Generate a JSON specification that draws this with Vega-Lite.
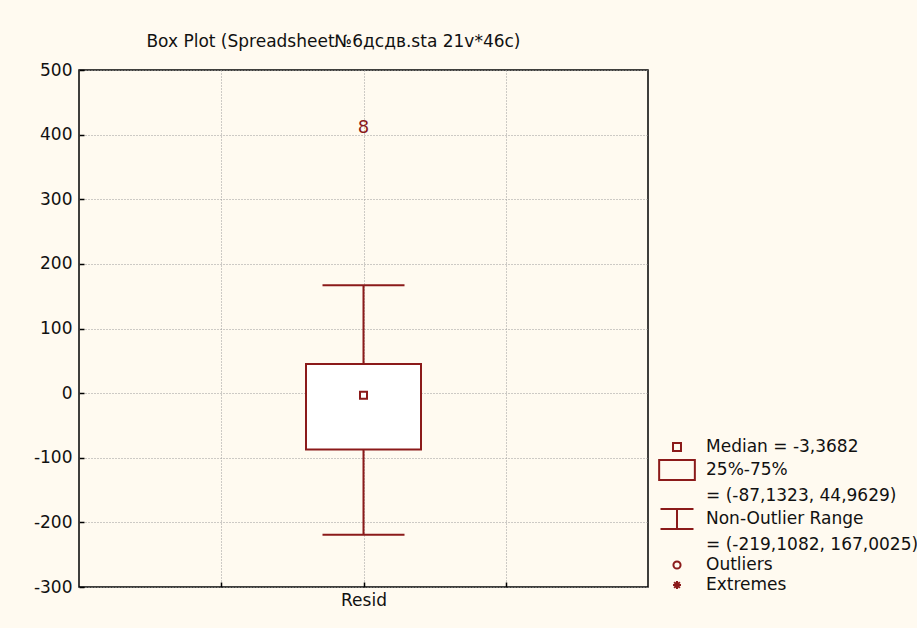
{
  "$schema": "https://vega.github.io/schema/vega-lite/v6.json",
  "width": 569,
  "height": 517,
  "autosize": {"type": "none"},
  "padding": {"left": 79, "top": 70, "right": 269, "bottom": 41},
  "background": "#FFFAF0",
  "title": {
    "text": "Box Plot (Spreadsheet№6дсдв.sta 21v*46c)",
    "anchor": "start",
    "dx": 113,
    "offset": 10,
    "font": "DejaVu Sans",
    "fontSize": 17,
    "fontWeight": "normal",
    "color": "#111111"
  },
  "config": {
    "font": "DejaVu Sans",
    "view": {"fill": "white", "stroke": "#000000", "strokeWidth": 1.5}
  },
  "datasets": {
    "box": [
      {"variable": "Resid", "q1": -87.1323, "q3": 44.9629, "median": -3.3682, "lower": -219.1082, "upper": 167.0025}
    ],
    "outliers": [
      {"variable": "Resid", "value": 410, "case": "8"}
    ],
    "legendItems": [
      {"item": "Median = -3,3682"},
      {"item": "25%-75%"},
      {"item": "= (-87,1323, 44,9629)"},
      {"item": "Non-Outlier Range"},
      {"item": "= (-219,1082, 167,0025)"},
      {"item": "Outliers"},
      {"item": "Extremes"}
    ]
  },
  "layer": [
    {
      "data": {"name": "box"},
      "mark": {"type": "rule", "color": "#8B1A1A", "strokeWidth": 2},
      "encoding": {
        "x": {
          "field": "variable",
          "type": "nominal",
          "scale": {"type": "point", "domain": [" ", "Resid", "  "], "padding": 1},
          "axis": {
            "title": null,
            "grid": true,
            "gridColor": "#9a9a9a",
            "gridDash": [1, 2],
            "gridWidth": 1,
            "domain": false,
            "tickSize": -5,
            "tickWidth": 1.5,
            "tickColor": "#000000",
            "labelFont": "DejaVu Sans",
            "labelFontSize": 17,
            "labelColor": "#111111",
            "labelPadding": 10,
            "labelAngle": 0
          }
        },
        "y": {
          "field": "lower",
          "type": "quantitative",
          "scale": {"domain": [-300, 500], "nice": false, "zero": false},
          "axis": {
            "title": null,
            "values": [-300, -200, -100, 0, 100, 200, 300, 400, 500],
            "labelExpr": "replace(datum.label, '−', '-')",
            "grid": true,
            "gridColor": "#9a9a9a",
            "gridDash": [1, 2],
            "gridWidth": 1,
            "domain": false,
            "tickSize": -5,
            "tickWidth": 1.5,
            "tickColor": "#000000",
            "labelFont": "DejaVu Sans",
            "labelFontSize": 17,
            "labelColor": "#111111",
            "labelPadding": 12
          }
        },
        "y2": {"field": "upper"}
      }
    },
    {
      "data": {"name": "box"},
      "mark": {"type": "bar", "size": 115, "fill": "white", "stroke": "#8B1A1A", "strokeWidth": 2},
      "encoding": {
        "x": {"field": "variable", "type": "nominal"},
        "y": {"field": "q1", "type": "quantitative"},
        "y2": {"field": "q3"}
      }
    },
    {
      "data": {"name": "box"},
      "mark": {"type": "tick", "size": 82, "thickness": 2, "color": "#8B1A1A", "opacity": 1},
      "encoding": {
        "x": {"field": "variable", "type": "nominal"},
        "y": {"field": "lower", "type": "quantitative"}
      }
    },
    {
      "data": {"name": "box"},
      "mark": {"type": "tick", "size": 82, "thickness": 2, "color": "#8B1A1A", "opacity": 1},
      "encoding": {
        "x": {"field": "variable", "type": "nominal"},
        "y": {"field": "upper", "type": "quantitative"}
      }
    },
    {
      "data": {"name": "box"},
      "mark": {"type": "point", "shape": "square", "size": 49, "filled": false, "fill": "white", "fillOpacity": 1, "stroke": "#8B1A1A", "strokeWidth": 2, "opacity": 1},
      "encoding": {
        "x": {"field": "variable", "type": "nominal"},
        "y": {"field": "median", "type": "quantitative"}
      }
    },
    {
      "data": {"name": "outliers"},
      "mark": {"type": "text", "color": "#8B1A1A", "fontSize": 18, "font": "DejaVu Sans", "baseline": "middle", "align": "center"},
      "encoding": {
        "x": {"field": "variable", "type": "nominal"},
        "y": {"field": "value", "type": "quantitative"},
        "text": {"field": "case"}
      }
    },
    {
      "data": {"name": "legendItems"},
      "mark": {"type": "point", "opacity": 0},
      "encoding": {
        "shape": {
          "field": "item",
          "type": "nominal",
          "scale": {
            "domain": ["Median = -3,3682", "25%-75%", "= (-87,1323, 44,9629)", "Non-Outlier Range", "= (-219,1082, 167,0025)", "Outliers", "Extremes"],
            "range": [
              "M-0.38,-0.38H0.38V0.38H-0.38Z",
              "M-1.7,-0.95H1.7V0.95H-1.7Z",
              "M0,0",
              "M-1.57,-0.95H1.57M0,-0.95V0.95M-1.57,0.95H1.57",
              "M0,0",
              "M0.34,0A0.34,0.34 0 1,1 -0.34,0A0.34,0.34 0 1,1 0.34,0Z",
              "M-0.38,0H0.38M0,-0.38V0.38M-0.27,-0.27L0.27,0.27M-0.27,0.27L0.27,-0.27"
            ]
          },
          "legend": {
            "title": null,
            "orient": "none",
            "legendX": 586.5,
            "legendY": 365.5,
            "padding": 0,
            "rowPadding": 0,
            "symbolSize": 441,
            "symbolStrokeWidth": 2,
            "symbolStrokeColor": "#8B1A1A",
            "symbolFillColor": "transparent",
            "symbolOpacity": 1,
            "labelOffset": 17.5,
            "labelFont": "DejaVu Sans",
            "labelFontSize": 17,
            "labelColor": "#111111",
            "labelLimit": 400
          }
        }
      }
    }
  ]
}
